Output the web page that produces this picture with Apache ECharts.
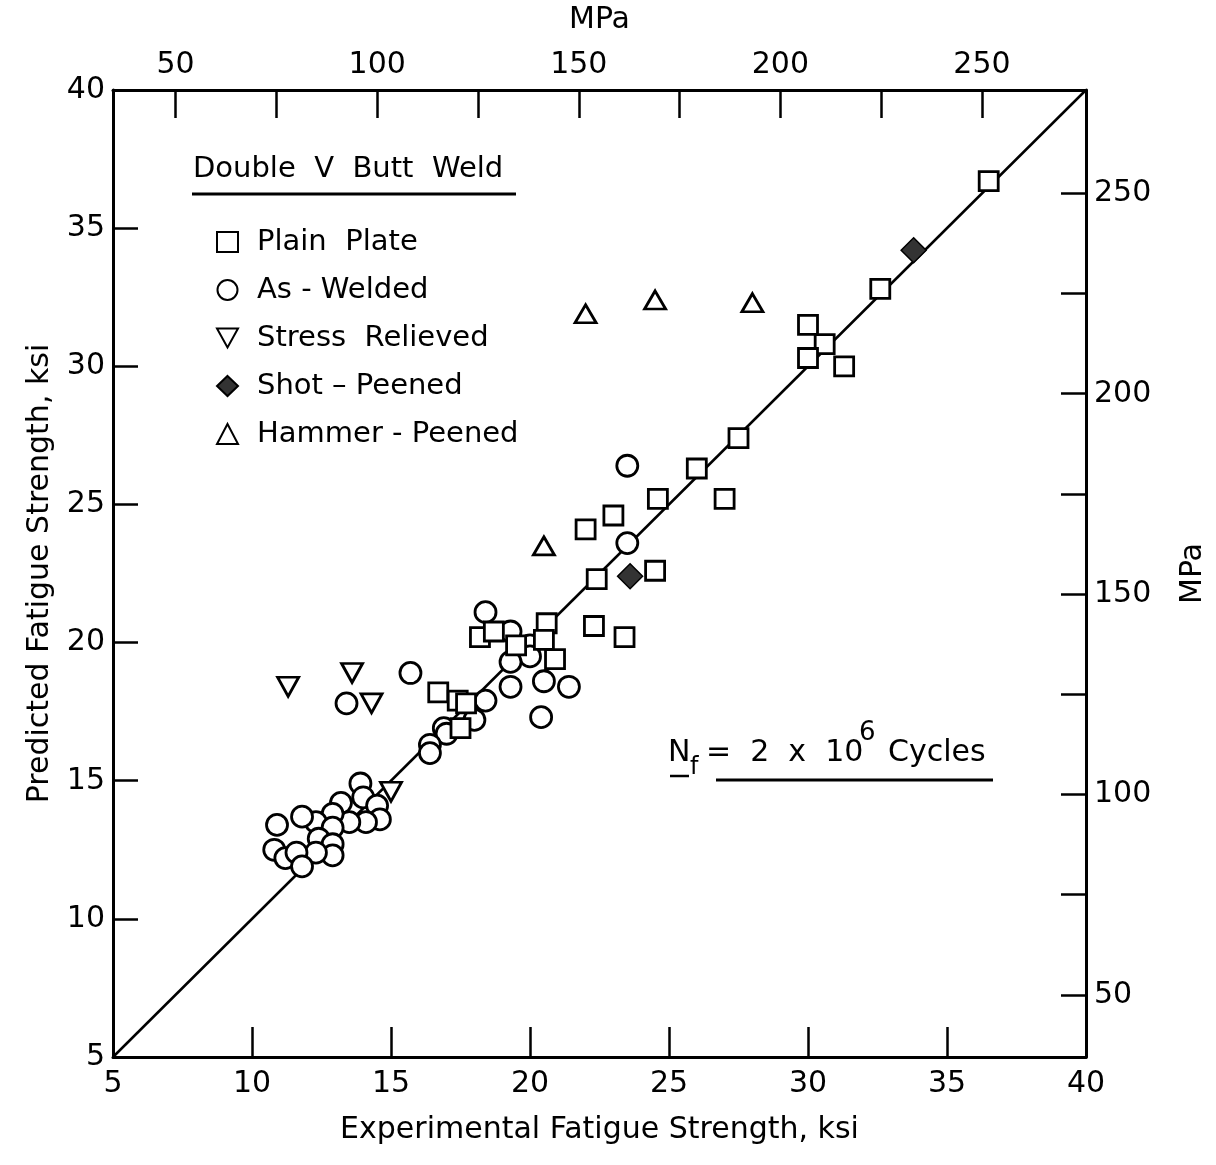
<!DOCTYPE html>
<html>
<head>
<meta charset="utf-8">
<script src="https://cdn.jsdelivr.net/npm/echarts@6/dist/echarts.min.js"></script>
<style>
    html, body { margin: 0; padding: 0; background: #fff; }
    #chart { width: 1216px; height: 1165px; }
</style>
</head>
<body>
<div id="chart"></div>
<script>
// ksi -> MPa
const KSI_TO_MPA = 6.895;

// Experimental (x) vs predicted (y) fatigue strength, ksi
const plainPlate = [
    [36.5, 36.7], [32.6, 32.8], [30.0, 31.5], [30.6, 30.8], [30.0, 30.3], [31.3, 30.0],
    [27.5, 27.4], [26.0, 26.3], [27.0, 25.2], [24.6, 25.2], [23.0, 24.6], [22.0, 24.1],
    [22.4, 22.3], [24.5, 22.6], [22.3, 20.6], [23.4, 20.2], [18.2, 20.2], [18.7, 20.4],
    [19.5, 19.9], [20.6, 20.7], [20.5, 20.1], [20.9, 19.4], [16.7, 18.2], [17.4, 17.9],
    [17.7, 17.8], [17.5, 16.9]
];
const asWelded = [
    [23.5, 26.4], [23.5, 23.6], [18.4, 21.1], [19.3, 20.4], [20.0, 19.9], [20.0, 19.5],
    [19.3, 19.3], [19.3, 18.4], [20.5, 18.6], [21.4, 18.4], [20.4, 17.3], [18.4, 17.9],
    [18.0, 17.2], [16.9, 16.9], [17.0, 16.7], [16.4, 16.3], [16.4, 16.0], [15.7, 18.9],
    [13.4, 17.8],
    [13.9, 14.9], [14.0, 14.4], [13.2, 14.2], [14.5, 14.1], [14.6, 13.6], [14.1, 13.5],
    [13.5, 13.5], [12.9, 13.8], [12.3, 13.5], [11.8, 13.7], [12.9, 13.3], [10.9, 13.4],
    [12.4, 12.9], [12.9, 12.7], [12.9, 12.3], [12.3, 12.4], [10.8, 12.5], [11.2, 12.2],
    [11.6, 12.4], [11.8, 11.9]
];
const stressRelieved = [[11.3, 18.4], [13.6, 18.9], [14.3, 17.8], [15.0, 14.6]];
const shotPeened = [[33.8, 34.2], [23.6, 22.4]];
const hammerPeened = [[22.0, 31.9], [24.5, 32.4], [28.0, 32.3], [20.5, 23.5]];

// axis ticks
const ksiTicks = [10, 15, 20, 25, 30, 35];
const mpaTicks = [50, 75, 100, 125, 150, 175, 200, 225, 250];
const mpaLabels = [50, 100, 150, 200, 250];

const FONT = "DejaVu Sans";
const toKsi = (m) => m / KSI_TO_MPA;
const DOWN_TRIANGLE = "path://M0,0 L20,0 L10,18 Z";

var chartDom = document.getElementById("chart");
var myChart = echarts.init(chartDom);

var hollow = {
    color: "#fff",
    borderColor: "#000",
    borderWidth: 2.8,
    opacity: 1,
};

var labelStyle = { fontFamily: FONT, fontSize: 30, color: "#000" };
var nameStyle = { fontFamily: FONT, fontSize: 30, color: "#000" };

var option = {
    animation: false,
    backgroundColor: "#fff",
    title: {
        text: "Double  V  Butt  Weld",
        left: 188,
        top: 150,
        textStyle: { fontFamily: FONT, fontSize: 29, fontWeight: "normal", color: "#000" },
    },
    legend: {
        orient: "vertical",
        left: 211,
        top: 220,
        itemWidth: 21,
        itemHeight: 20,
        itemGap: 14,
        data: [
            { name: "Plain Plate" },
            { name: "As-Welded" },
            { name: "Stress Relieved", icon: DOWN_TRIANGLE },
            { name: "Shot-Peened" },
            { name: "Hammer-Peened" },
        ],
        formatter: function (name) {
            return {
                "Plain Plate": "Plain  Plate",
                "As-Welded": "As - Welded",
                "Stress Relieved": "Stress  Relieved",
                "Shot-Peened": "Shot – Peened",
                "Hammer-Peened": "Hammer - Peened",
            }[name];
        },
        textStyle: { fontFamily: FONT, fontSize: 29, color: "#000", lineHeight: 34, padding: [0, 0, 0, 14] },
    },
    grid: {
        left: 113,
        right: 119,
        top: 88,
        bottom: 108,
    },
    xAxis: [
        {
            type: "value",
            min: 5,
            max: 40,
            interval: 5,
            name: "Experimental Fatigue Strength, ksi",
            nameLocation: "middle",
            nameGap: 58,
            nameTextStyle: nameStyle,
            axisLine: { lineStyle: { color: "#000", width: 3 } },
            axisTick: { inside: true, length: 30, customValues: ksiTicks, lineStyle: { color: "#000", width: 2.5 } },
            axisLabel: Object.assign({ margin: 12, showMinLabel: true, showMaxLabel: true }, labelStyle),
            splitLine: { show: false },
        },
        {
            type: "value",
            position: "top",
            min: 5,
            max: 40,
            name: "MPa",
            nameLocation: "middle",
            nameGap: 55,
            nameTextStyle: nameStyle,
            axisLine: { show: true, lineStyle: { color: "#000", width: 3 } },
            axisTick: { inside: true, length: 28, customValues: mpaTicks.map(toKsi), lineStyle: { color: "#000", width: 2.5 } },
            axisLabel: Object.assign({
                margin: 10,
                customValues: mpaLabels.map(toKsi),
                formatter: (v) => Math.round(v * KSI_TO_MPA),
            }, labelStyle),
            splitLine: { show: false },
        },
    ],
    yAxis: [
        {
            type: "value",
            min: 5,
            max: 40,
            interval: 5,
            name: "Predicted Fatigue Strength, ksi",
            nameLocation: "middle",
            nameGap: 58,
            nameRotate: 90,
            nameTextStyle: nameStyle,
            axisLine: { show: true, lineStyle: { color: "#000", width: 3 } },
            axisTick: { show: true, inside: true, length: 25, customValues: ksiTicks, lineStyle: { color: "#000", width: 2.5 } },
            axisLabel: Object.assign({ margin: 8, showMinLabel: true, showMaxLabel: true }, labelStyle),
            splitLine: { show: false },
        },
        {
            type: "value",
            position: "right",
            min: 5,
            max: 40,
            name: "MPa",
            nameLocation: "middle",
            nameGap: 92,
            nameRotate: 90,
            nameTextStyle: nameStyle,
            axisLine: { show: true, lineStyle: { color: "#000", width: 3 } },
            axisTick: { show: true, inside: true, length: 25, customValues: mpaTicks.map(toKsi), lineStyle: { color: "#000", width: 2.5 } },
            axisLabel: Object.assign({
                margin: 8,
                customValues: mpaLabels.map(toKsi),
                formatter: (v) => Math.round(v * KSI_TO_MPA),
            }, labelStyle),
            splitLine: { show: false },
        },
    ],
    graphic: [
        // underline of the legend heading
        { type: "line", shape: { x1: 192, y1: 194, x2: 516, y2: 194 }, style: { stroke: "#000", lineWidth: 3 } },
        // N_f = 2 x 10^6 Cycles
        { type: "text", left: 668, top: 738, style: { text: "N", font: "30px " + FONT, fill: "#000" } },
        { type: "text", left: 690, top: 756, style: { text: "f", font: "24px " + FONT, fill: "#000" } },
        { type: "text", left: 706, top: 738, style: { text: "=  2  x  10", font: "30px " + FONT, fill: "#000" } },
        { type: "text", left: 859, top: 720, style: { text: "6", font: "26px " + FONT, fill: "#000" } },
        { type: "text", left: 888, top: 738, style: { text: "Cycles", font: "30px " + FONT, fill: "#000" } },
        { type: "line", shape: { x1: 670, y1: 776, x2: 689, y2: 776 }, style: { stroke: "#000", lineWidth: 2.5 } },
        { type: "line", shape: { x1: 716, y1: 780, x2: 993, y2: 780 }, style: { stroke: "#000", lineWidth: 3 } },
    ],
    series: [
        {
            name: "line",
            type: "line",
            data: [[5, 5], [40, 40]],
            symbol: "none",
            lineStyle: { color: "#000", width: 2.5 },
            z: 1,
            silent: true,
        },
        {
            name: "Plain Plate",
            type: "scatter",
            symbol: "rect",
            symbolSize: 19,
            itemStyle: hollow,
            data: plainPlate,
            z: 3,
        },
        {
            name: "As-Welded",
            type: "scatter",
            symbol: "circle",
            symbolSize: 21,
            itemStyle: hollow,
            data: asWelded,
            z: 2,
        },
        {
            name: "Stress Relieved",
            type: "scatter",
            symbol: DOWN_TRIANGLE,
            symbolSize: [21, 19],
            itemStyle: hollow,
            data: stressRelieved,
            z: 3,
        },
        {
            name: "Shot-Peened",
            type: "scatter",
            symbol: "diamond",
            symbolSize: [25, 25],
            itemStyle: { color: "#333", borderColor: "#000", borderWidth: 1.5, opacity: 1 },
            data: shotPeened,
            z: 4,
        },
        {
            name: "Hammer-Peened",
            type: "scatter",
            symbol: "triangle",
            symbolSize: [21, 18],
            itemStyle: hollow,
            data: hammerPeened,
            z: 3,
        },
    ],
};

option && myChart.setOption(option);
</script>
</body>
</html>
